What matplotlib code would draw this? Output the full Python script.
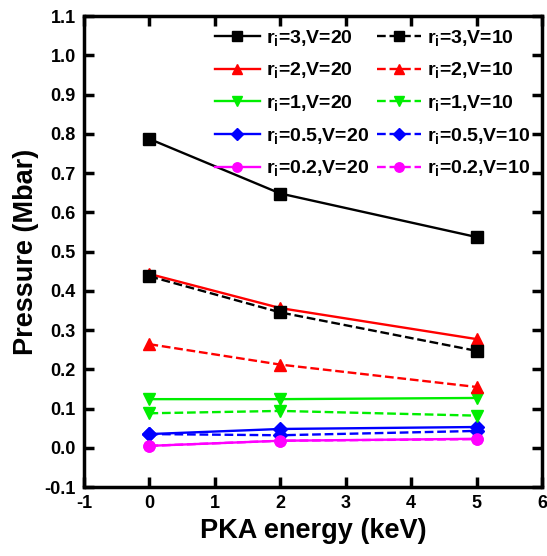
import matplotlib.pyplot as plt

plt.rcParams['font.family'] = ['Liberation Sans', 'DejaVu Sans']
plt.rcParams['font.weight'] = 'bold'
plt.rcParams['mathtext.default'] = 'regular'
plt.rcParams['axes.unicode_minus'] = False

energy = [0, 2, 5]

r_vals = ['3', '2', '1', '0.5', '0.2']
colors = ['black', 'red', '#00ee00', 'blue', '#ff00ff']
markers = ['s', '^', 'v', 'D', 'o']

p_v20 = [
    [0.787, 0.648, 0.537],
    [0.443, 0.356, 0.277],
    [0.124, 0.124, 0.127],
    [0.035, 0.048, 0.053],
    [0.005, 0.018, 0.023],
]
p_v10 = [
    [0.437, 0.345, 0.247],
    [0.264, 0.212, 0.155],
    [0.088, 0.094, 0.082],
    [0.035, 0.032, 0.043],
    [0.005, 0.018, 0.022],
]

fig = plt.figure(figsize=(5.47, 5.56), dpi=100)
ax = fig.add_axes([0.1536, 0.124, 0.8374, 0.847])

for r, c, m, y in zip(r_vals, colors, markers, p_v20):
    ax.plot(energy, y, color=c, marker=m, ls='-', lw=1.7, ms=8 if m != 'D' else 7,
            label=f'r$_i$={r},V=20')
for r, c, m, y in zip(r_vals, colors, markers, p_v10):
    ax.plot(energy, y, color=c, marker=m, ls='--', lw=1.7, ms=8 if m != 'D' else 7,
            label=f'r$_i$={r},V=10')

ax.set_xlim(-1, 6)
ax.set_ylim(-0.1, 1.1)
ax.set_xticks(range(-1, 7))
ax.set_yticks([i / 10 for i in range(-1, 12)])
ax.set_yticklabels([f'{i / 10:.1f}' for i in range(-1, 12)])

ax.tick_params(direction='in', top=True, right=True, width=2.5, length=7,
               labelsize=13, pad=6)
for s in ax.spines.values():
    s.set_linewidth(2.5)

ax.set_xlabel('PKA energy (keV)', fontsize=19.5, fontweight='bold', labelpad=4)
ax.set_ylabel('Pressure (Mbar)', fontsize=19.5, fontweight='bold', labelpad=4)

ax.legend(ncol=2, loc='upper right', frameon=False, fontsize=14,
          handlelength=2.3, columnspacing=0.4, handletextpad=0.3,
          labelspacing=0.65, borderaxespad=0.2, markerscale=0.85)

fig.savefig('out.png', dpi=100)
